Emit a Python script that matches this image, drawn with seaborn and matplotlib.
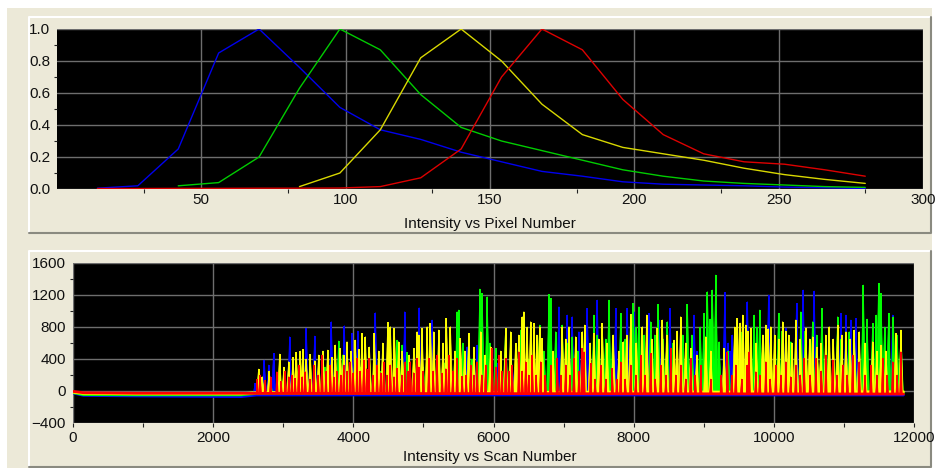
import numpy as np
import pandas as pd
import matplotlib
matplotlib.use("Agg")
import matplotlib.pyplot as plt
import seaborn as sns
from matplotlib.patches import Rectangle
from matplotlib.collections import PolyCollection
from matplotlib.ticker import MultipleLocator, FixedLocator

# ---------------- data: top panel (intensity vs pixel number) ----------------
pixel = [14, 28, 42, 56, 70, 84, 98, 112, 126, 140, 154, 168, 182, 196, 210, 224, 238, 252, 266, 280]
blue_px = [0.005, 0.02, 0.25, 0.85, 1.0, 0.76, 0.51, 0.37, 0.31, 0.23, 0.17, 0.11, 0.08, 0.045, 0.03, 0.025, 0.02, 0.012, 0.008, 0.003]
green_px = [np.nan, np.nan, 0.02, 0.04, 0.20, 0.63, 1.0, 0.87, 0.59, 0.385, 0.30, 0.24, 0.18, 0.12, 0.08, 0.05, 0.035, 0.025, 0.015, 0.01]
yellow_px = [np.nan, np.nan, np.nan, np.nan, np.nan, 0.015, 0.10, 0.37, 0.82, 1.0, 0.80, 0.53, 0.34, 0.26, 0.22, 0.18, 0.13, 0.09, 0.06, 0.035]
red_px = [0.003, 0.003, 0.004, 0.004, 0.005, 0.005, 0.006, 0.015, 0.07, 0.25, 0.70, 1.0, 0.87, 0.56, 0.34, 0.22, 0.17, 0.155, 0.12, 0.08]

# ---------------- data: bottom panel (intensity vs scan number) ----------------
base_scan = [0, 150, 900, 2400, 2620, 11850]
blue_base = [-25, -55, -62, -70, -50, -50]
green_base = [-20, -45, -48, -48, -30, -25]
yellow_base = [-15, -30, -35, -35, -20, -10]
red_base = [-5, -22, -28, -28, -30, -38]

blue_scan = [2600, 2729, 2791, 2862, 3091, 3329, 3448, 3686, 3872, 3981, 4062, 4315, 4734, 4939, 5124, 5624,
             5767, 5900, 6050, 6100, 6300, 6934, 7053, 7124, 7219, 7338, 7481, 7600, 7743, 7910, 8005, 8124,
             8219, 8362, 8519, 8672, 8862, 8900, 9300, 9350, 9380, 9410, 9624, 9924, 10171, 10324, 10419,
             10576, 10957, 11029, 11100, 11171, 11695]
blue_peak = [96, 387, 325, 470, 679, 783, 687, 867, 817, 721, 750, 979, 992, 1042, 888, 554,
             575, 300, 350, 408, 300, 1054, 950, 929, 742, 1033, 1137, 450, 1033, 1033, 992, 700,
             971, 888, 1033, 867, 950, 500, 1233, 600, 500, 700, 1117, 1200, 783, 1096, 1263,
             1250, 971, 950, 888, 908, 950]

yellow_scan = [2648, 2700, 2800, 2948, 3010, 3077, 3140, 3186, 3243, 3281, 3330, 3386, 3450, 3505, 3567, 3634,
               3690, 3743, 3815, 3860, 3910, 3970, 4029, 4080, 4124, 4172, 4230, 4300, 4362, 4420, 4491, 4529,
               4586, 4648, 4700, 4800, 4862, 4910, 4934, 4981, 5053, 5100, 5148, 5219, 5280, 5329, 5386, 5450,
               5529, 5590, 5648, 5720, 5815, 5880, 5958, 6100, 6172, 6243, 6315, 6360, 6410, 6434, 6480, 6529,
               6576, 6620, 6658, 6696, 6850, 6981, 7030, 7077, 7172, 7267, 7300, 7380, 7433, 7500, 7552, 7620,
               7710, 7790, 7853, 7900, 7957, 8040, 8124, 8186, 8260, 8338, 8410, 8470, 8576, 8620, 8672, 8740,
               8814, 8900, 9029, 9100, 9291, 9440, 9481, 9520, 9553, 9600, 9630, 9671, 9750, 9840, 9886, 9920,
               9957, 10010, 10070, 10124, 10170, 10210, 10260, 10314, 10380, 10457, 10510, 10552, 10620, 10671,
               10740, 10790, 10850, 10910, 10970, 11029, 11090, 11148, 11219, 11300, 11410, 11470, 11529, 11600,
               11743, 11814]
yellow_peak = [275, 180, 250, 462, 300, 367, 420, 483, 500, 521, 400, 458, 380, 450, 500, 512,
               420, 575, 533, 450, 617, 500, 637, 520, 721, 679, 550, 721, 500, 600, 858, 804,
               783, 617, 500, 450, 533, 742, 700, 783, 804, 846, 742, 763, 600, 908, 804, 500,
               658, 500, 721, 550, 742, 450, 554, 500, 783, 742, 596, 700, 929, 992, 800, 867,
               846, 700, 804, 658, 500, 804, 650, 804, 679, 742, 825, 600, 721, 650, 846, 600,
               700, 500, 617, 700, 958, 600, 804, 950, 650, 783, 888, 700, 637, 750, 929, 600,
               533, 450, 679, 500, 533, 800, 908, 850, 950, 825, 750, 783, 600, 700, 825, 780,
               804, 700, 650, 867, 750, 700, 600, 888, 650, 783, 650, 679, 550, 596,
               700, 804, 650, 825, 700, 742, 650, 763, 742, 600, 617, 500, 575, 500,
               721, 763]

green_scan = [2696, 2815, 3000, 3500, 3600, 3791, 3850, 4100, 4400, 4624, 4696, 4767, 5000, 5300, 5481, 5505,
              5560, 5648, 5700, 5805, 5838, 5910, 5950, 6029, 6172, 6250, 6386, 6500, 6658, 6720, 6791, 6815,
              6886, 6981, 7050, 7124, 7200, 7433, 7480, 7552, 7600, 7648, 7700, 7815, 7880, 7995, 8040, 8076,
              8150, 8243, 8300, 8348, 8420, 8481, 8560, 8700, 8767, 8830, 8950, 9005, 9053, 9090, 9124, 9172,
              9219, 9350, 9529, 9719, 9760, 9800, 9850, 10067, 10120, 10243, 10386, 10450, 10552, 10610, 10686,
              10750, 10910, 10960, 11076, 11150, 11276, 11330, 11410, 11460, 11495, 11529, 11580, 11638, 11705,
              11760, 11814]
green_peak = [158, 137, 120, 200, 300, 625, 450, 300, 250, 637, 575, 483, 300, 350, 992, 1013,
              600, 721, 400, 1275, 1221, 1179, 600, 533, 783, 500, 763, 400, 825, 500, 1208, 1158,
              742, 825, 600, 679, 500, 950, 700, 825, 650, 1137, 700, 971, 650, 1096, 800, 1054,
              700, 867, 700, 1083, 650, 867, 600, 700, 1083, 700, 800, 971, 1242, 900, 1263, 1450,
              617, 500, 742, 950, 800, 1013, 700, 971, 750, 617, 992, 750, 867, 700, 1033,
              650, 929, 650, 742, 600, 1325, 900, 846, 950, 1346, 1221, 800, 971, 929,
              700, 742]

red_scan = [2630, 2672, 2743, 2820, 2910, 2970, 3029, 3080, 3124, 3170, 3220, 3270, 3315, 3380, 3434, 3500,
            3553, 3610, 3672, 3720, 3767, 3820, 3862, 3910, 3958, 4000, 4053, 4100, 4148, 4190, 4220, 4280,
            4339, 4390, 4434, 4480, 4529, 4580, 4624, 4690, 4743, 4780, 4815, 4860, 4910, 4934, 5000, 5077,
            5140, 5196, 5267, 5320, 5362, 5420, 5481, 5553, 5610, 5672, 5720, 5767, 5830, 5886, 5981, 6030,
            6077, 6120, 6172, 6220, 6267, 6362, 6410, 6458, 6500, 6553, 6610, 6672, 6740, 6815, 6910, 6960,
            7029, 7090, 7148, 7220, 7267, 7291, 7386, 7450, 7529, 7600, 7695, 7760, 7814, 7880, 7957, 8030,
            8100, 8160, 8243, 8310, 8386, 8460, 8529, 8600, 8672, 8740, 8814, 8880, 8957, 9100, 9250, 9338,
            9400, 9457, 9540, 9624, 9648, 9743, 9800, 9886, 9950, 10029, 10100, 10171, 10240, 10314, 10380,
            10433, 10520, 10600, 10680, 10743, 10838, 10900, 10981, 11050, 11124, 11219, 11300, 11386, 11470,
            11552, 11620, 11695, 11760, 11814]
red_peak = [150, 200, 137, 180, 242, 120, 250, 180, 200, 160, 325, 180, 242, 150, 325, 200,
            450, 250, 325, 180, 250, 200, 325, 250, 367, 230, 408, 250, 387, 280, 408, 200,
            325, 230, 367, 200, 325, 180, 283, 200, 367, 250, 367, 230, 408, 300, 250, 408,
            250, 450, 225, 280, 450, 250, 408, 183, 200, 325, 200, 367, 200, 325, 533, 300,
            450, 250, 408, 250, 325, 492, 250, 367, 200, 450, 200, 367, 200, 325, 408, 200,
            325, 200, 408, 250, 533, 492, 346, 150, 325, 150, 283, 150, 367, 150, 325, 200,
            450, 200, 471, 150, 325, 200, 533, 200, 325, 150, 408, 200, 325, 150, 200, 492,
            200, 325, 150, 325, 492, 242, 200, 367, 150, 325, 200, 367, 180, 325, 200,
            408, 200, 408, 250, 450, 387, 200, 325, 200, 450, 367, 200, 325, 200,
            408, 200, 367, 200, 492]

# ---------------- styling ----------------
W, H, DPI = 935, 468, 100
BEIGE = "#ECE9D8"
sns.set_theme(style="dark")
plt.rcParams["font.family"] = ["Liberation Sans", "DejaVu Sans"]

fig = plt.figure(figsize=(W / DPI, H / DPI), dpi=DPI, facecolor="white")

def frac(x0, y0, x1, y1):
    return [x0 / W, 1 - y1 / H, (x1 - x0) / W, (y1 - y0) / H]

# background + panel frames
fig.add_artist(Rectangle((7 / W, 0), 1 - 10 / W, 1 - 8 / H, transform=fig.transFigure,
                         facecolor=BEIGE, edgecolor="none", zorder=-5))
for (x0, y0, x1, y1) in [(29, 17, 931, 233), (29, 251, 931, 467)]:
    l, b, w, h = frac(x0, y0, x1, y1)
    fig.add_artist(Rectangle((l, b), w, h, transform=fig.transFigure,
                             facecolor=BEIGE, edgecolor="none", zorder=-4))
    fig.add_artist(plt.Line2D([l, l, l + w], [b, b + h, b + h], transform=fig.transFigure,
                              color="white", lw=1.5, zorder=-3))
    fig.add_artist(plt.Line2D([l, l + w, l + w], [b, b, b + h], transform=fig.transFigure,
                              color="#8A8A80", lw=1.5, zorder=-3))

colors = {"blue": "#0000FF", "green": "#00FF00", "yellow": "#FFFF00", "red": "#FF0000"}
top_colors = {"blue": "#0000EE", "green": "#00CC00", "yellow": "#D8D800", "red": "#DD0000"}
FS = 11

def style_axes(ax):
    ax.set_facecolor("black")
    for s in ax.spines.values():
        s.set_visible(False)
    ax.grid(True, which="major", color="#6E6E6E", lw=1.0)
    ax.tick_params(axis="both", which="both", colors="#222222", labelcolor="#111111",
                   labelsize=FS, direction="out", width=0.8)
    ax.tick_params(axis="y", which="major", length=4, pad=1)
    ax.tick_params(axis="y", which="minor", length=2, left=True)
    ax.tick_params(axis="x", which="major", pad=3)
    ax.set_xlabel("")
    ax.set_ylabel("")

# ---------------- top panel ----------------
ax1 = fig.add_axes(frac(57, 29, 923, 189))
df_top = pd.DataFrame({"pixel": pixel, "blue": blue_px, "green": green_px,
                       "yellow": yellow_px, "red": red_px})
df_top = df_top.melt(id_vars="pixel", var_name="dye", value_name="intensity")
sns.lineplot(data=df_top, x="pixel", y="intensity", hue="dye",
             palette=top_colors, hue_order=["blue", "green", "yellow", "red"],
             lw=1.0, legend=False, ax=ax1, estimator=None)
ax1.set_xlim(0, 300)
ax1.set_ylim(0, 1.0)
ax1.xaxis.set_major_locator(FixedLocator([50, 100, 150, 200, 250, 300]))
ax1.xaxis.set_minor_locator(FixedLocator([30, 80, 130, 180, 230, 280]))
ax1.yaxis.set_major_locator(MultipleLocator(0.2))
ax1.yaxis.set_minor_locator(MultipleLocator(0.1))
ax1.set_yticklabels([f"{v:.1f}" for v in ax1.get_yticks()])
style_axes(ax1)
ax1.tick_params(axis="x", which="major", length=0)
ax1.tick_params(axis="x", which="minor", length=3, bottom=True)
fig.text(490 / W, 1 - 224 / H, "Intensity vs Pixel Number", ha="center", va="center",
         fontsize=FS, color="#111111")

# ---------------- bottom panel ----------------
ax2 = fig.add_axes(frac(73, 263, 914, 423))
df_base = pd.DataFrame({"scan": base_scan, "blue": blue_base, "green": green_base,
                        "yellow": yellow_base, "red": red_base})
df_base = df_base.melt(id_vars="scan", var_name="dye", value_name="intensity")

run_base = {"blue": -50, "green": -25, "yellow": -10, "red": -35}
HALF = {"blue": 34, "green": 34, "yellow": 30, "red": 18}  # half-width of a peak's base, in scans
peaks = {"blue": (blue_scan, blue_peak), "green": (green_scan, green_peak),
         "yellow": (yellow_scan, yellow_peak), "red": (red_scan, red_peak)}
for i, dye in enumerate(["blue", "green", "yellow", "red"]):
    sub = df_base[df_base["dye"] == dye]
    sns.lineplot(data=sub, x="scan", y="intensity", color=colors[dye], lw=2.0,
                 ax=ax2, legend=False, estimator=None, zorder=3 + i)
    xs, hs = peaks[dye]
    b0 = run_base[dye]
    hw = HALF[dye]
    tris = [[(s - hw, b0), (s, h), (s + hw, b0)] for s, h in zip(xs, hs)]
    ax2.add_collection(PolyCollection(tris, facecolors=colors[dye], edgecolors=colors[dye],
                                      linewidths=0.5, zorder=3 + i))
    ax2.vlines(xs, b0, hs, colors=colors[dye], lw=1.4, zorder=3 + i)
ax2.set_xlim(0, 12000)
ax2.set_ylim(-400, 1600)
ax2.xaxis.set_major_locator(MultipleLocator(2000))
ax2.xaxis.set_minor_locator(MultipleLocator(1000))
ax2.yaxis.set_major_locator(MultipleLocator(400))
ax2.yaxis.set_minor_locator(MultipleLocator(200))
style_axes(ax2)
ax2.tick_params(axis="x", which="both", length=3, bottom=True)
fig.text(490 / W, 1 - 457 / H, "Intensity vs Scan Number", ha="center", va="center",
         fontsize=FS, color="#111111")

fig.savefig("out.png", dpi=DPI, facecolor=fig.get_facecolor())
